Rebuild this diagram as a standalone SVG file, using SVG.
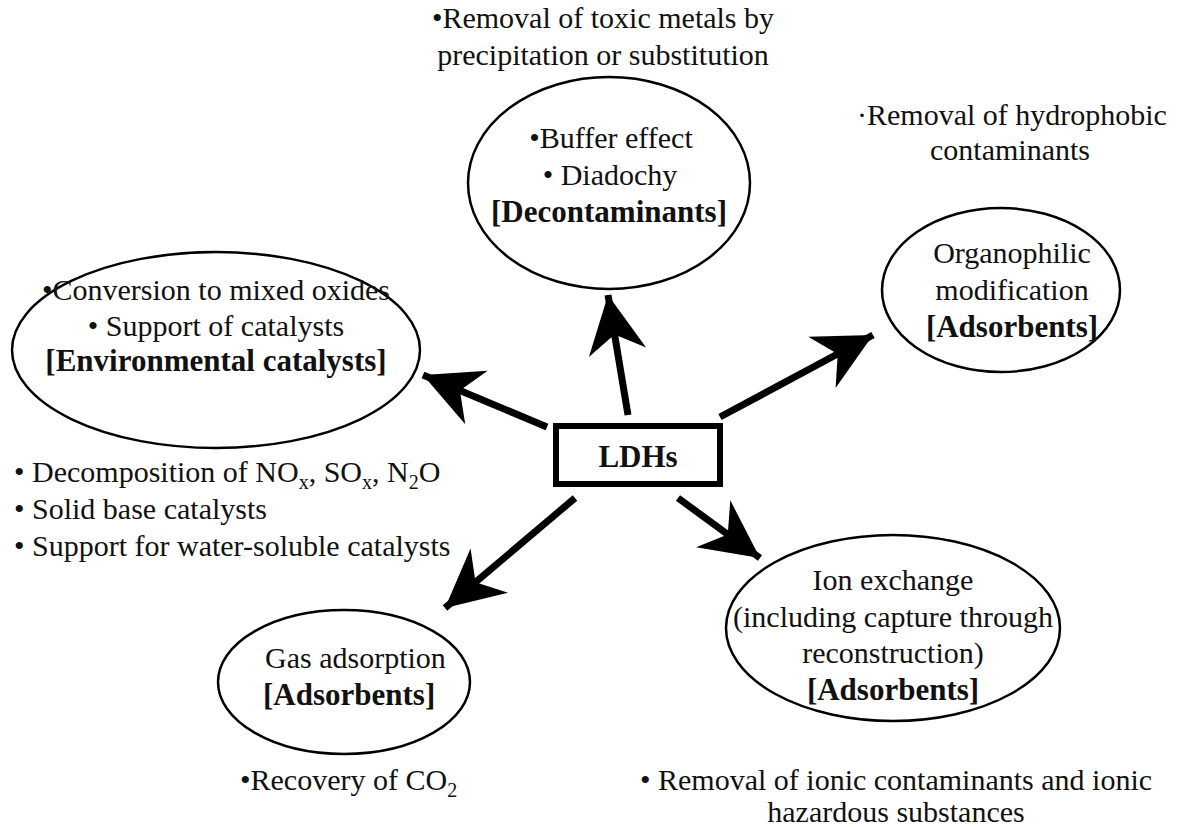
<svg xmlns="http://www.w3.org/2000/svg" width="1177" height="827" viewBox="0 0 1177 827">
<style>
text{font-family:"Liberation Serif","Times New Roman",serif;font-size:30px;fill:#111}
.c{text-anchor:middle}
.b{font-weight:bold;font-size:31px}
.sub{font-size:20px}
ellipse{fill:#fff;stroke:#000;stroke-width:2.5}
.conn line{stroke:#000;stroke-width:7}
</style>
<defs>
<marker id="ah" markerUnits="userSpaceOnUse" markerWidth="70" markerHeight="70" viewBox="-60 -35 70 70" refX="0" refY="0" orient="auto">
<path d="M0,0 L-58,-29 L-40,0 L-58,29 Z" fill="#000"/>
</marker>
</defs>
<rect width="1177" height="827" fill="#fff"/>

<g id="node-decontaminants">
<ellipse cx="609" cy="183" rx="141" ry="106"/>
<text class="c" x="611" y="148">•Buffer effect</text>
<text class="c" x="610" y="185">• Diadochy</text>
<text class="c b" x="609" y="222">[Decontaminants]</text>
</g>
<g id="node-env-catalysts">
<ellipse cx="216" cy="350" rx="204" ry="98"/>
<text class="c" x="216" y="300">•Conversion to mixed oxides</text>
<text class="c" x="216" y="336">• Support of catalysts</text>
<text class="c b" x="216" y="371">[Environmental catalysts]</text>
</g>
<g id="node-organophilic">
<ellipse cx="1001" cy="290" rx="119" ry="82"/>
<text class="c" x="1012" y="263">Organophilic</text>
<text class="c" x="1012" y="300">modification</text>
<text class="c b" x="1012" y="337">[Adsorbents]</text>
</g>
<g id="node-gas">
<ellipse cx="344" cy="682" rx="126" ry="72"/>
<text x="265" y="668">Gas adsorption</text>
<text class="b" x="263" y="705">[Adsorbents]</text>
</g>
<g id="node-ion">
<ellipse cx="893" cy="628" rx="167" ry="93"/>
<text class="c" x="893" y="590">Ion exchange</text>
<text class="c" x="893" y="627">(including capture through</text>
<text class="c" x="893" y="663">reconstruction)</text>
<text class="c b" x="893" y="700">[Adsorbents]</text>
</g>
<g id="node-ldhs">
<rect x="556" y="426" width="164" height="58" fill="#fff" stroke="#000" stroke-width="6"/>
<text class="c b" x="638" y="467">LDHs</text>
</g>

<g class="conn" id="connectors">
<line x1="628" y1="415" x2="608" y2="295" marker-end="url(#ah)"/>
<line x1="547" y1="427" x2="423" y2="375" marker-end="url(#ah)"/>
<line x1="720" y1="417" x2="873" y2="335" marker-end="url(#ah)"/>
<line x1="575" y1="498" x2="445" y2="608" marker-end="url(#ah)"/>
<line x1="678" y1="498" x2="760" y2="558" marker-end="url(#ah)"/>
</g>

<g id="notes">
<text class="c" x="603" y="28">•Removal of toxic metals by</text>
<text class="c" x="603" y="65">precipitation or substitution</text>
<text x="857" y="125">·Removal of hydrophobic</text>
<text class="c" x="1010" y="160">contaminants</text>
<text x="14" y="482">• Decomposition of NO<tspan class="sub" dy="7">x</tspan><tspan dy="-7">, SO</tspan><tspan class="sub" dy="7">x</tspan><tspan dy="-7">, N</tspan><tspan class="sub" dy="7">2</tspan><tspan dy="-7">O</tspan></text>
<text x="14" y="519">• Solid base catalysts</text>
<text x="14" y="556">• Support for water-soluble catalysts</text>
<text x="240" y="790">•Recovery of CO<tspan class="sub" dy="7">2</tspan></text>
<text x="640" y="790">• Removal of ionic contaminants and ionic</text>
<text class="c" x="896" y="822">hazardous substances</text>
</g>
</svg>
